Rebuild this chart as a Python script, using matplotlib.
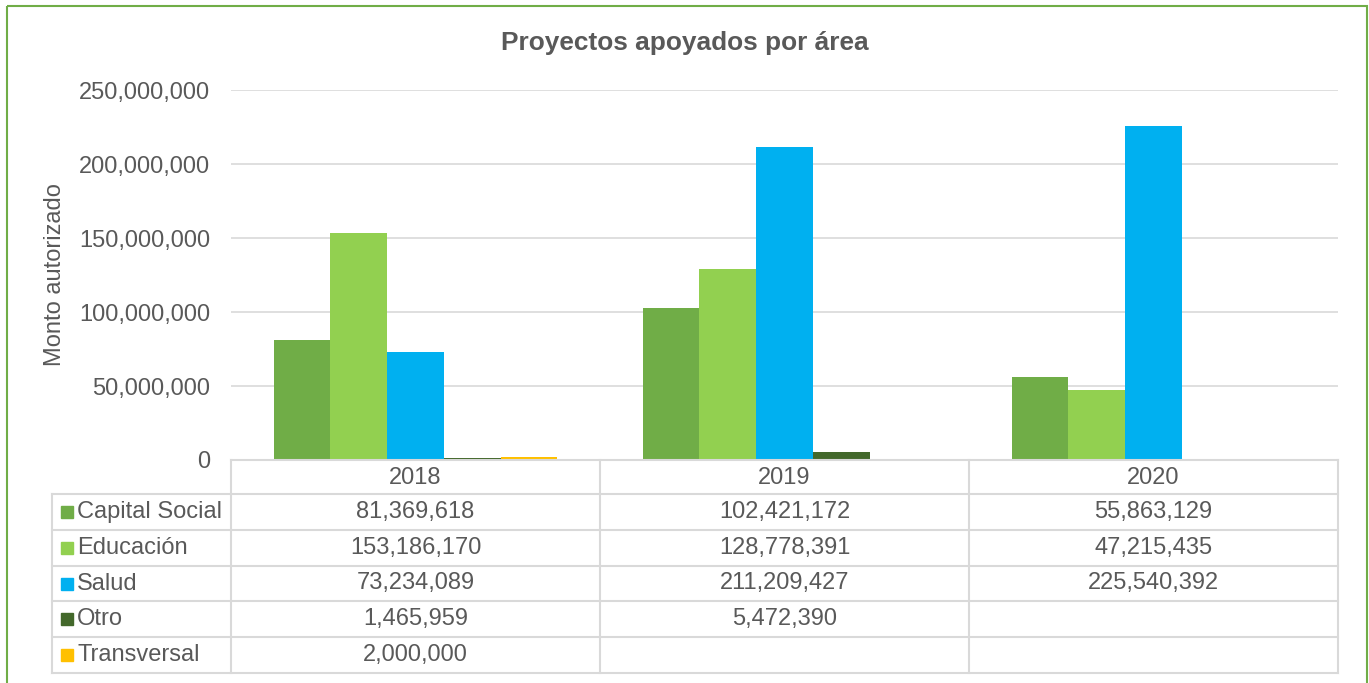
import matplotlib
matplotlib.use('Agg')
import matplotlib.pyplot as plt
import numpy as np
from matplotlib.patches import Rectangle
from matplotlib.lines import Line2D

# data
years = ['2018', '2019', '2020']
areas = ['Capital Social', 'Educación', 'Salud', 'Otro', 'Transversal']
capital_social = [81369618, 102421172, 55863129]
educacion = [153186170, 128778391, 47215435]
salud = [73234089, 211209427, 225540392]
otro = [1465959, 5472390, None]
transversal = [2000000, None, None]
colors = ['#70AD47', '#92D050', '#00B0F0', '#43682B', '#FFC000']

series = [capital_social, educacion, salud, otro, transversal]

plt.rcParams['font.family'] = ['Liberation Sans', 'DejaVu Sans']
text_col = '#595959'
grid_col = '#D9D9D9'

W, H = 1369, 683
fig = plt.figure(figsize=(W / 100, H / 100), dpi=100)

# main plot area (pixel box 231..1338 x 90..460)
ax = fig.add_axes([231 / W, 1 - 460 / H, (1338 - 231) / W, (460 - 90) / H])

n = len(series)
width = 1 / (n + 1.5)
x = np.arange(len(years))
for i, (vals, c) in enumerate(zip(series, colors)):
    v = np.array([np.nan if a is None else a for a in vals], dtype=float)
    ax.bar(x + (i - (n - 1) / 2) * width, v, width=width, color=c, zorder=3)

ax.set_xlim(-0.5, len(years) - 0.5)
ax.set_ylim(0, 250000000)
ax.set_yticks(np.arange(0, 250000001, 50000000))
ax.yaxis.set_major_formatter(matplotlib.ticker.FuncFormatter(lambda v, p: f'{int(v):,}'))
ax.tick_params(axis='y', length=0, pad=15, labelsize=17, labelcolor=text_col)
ax.set_xticks([])
ax.grid(axis='y', color=grid_col, linewidth=1.2, zorder=0)
for s in ax.spines.values():
    s.set_visible(False)
ax.set_ylabel('Monto autorizado', fontsize=17, color=text_col)
ax.yaxis.set_label_coords((66 - 231) / (1338 - 231), 0.5)

fig.text(685 / W, 1 - 43 / H, 'Proyectos apoyados por área', ha='center', va='center',
         fontsize=18.9, fontweight='bold', color=text_col)

# data table drawn in pixel space
tab = fig.add_axes([0, 0, 1, 1])
tab.set_xlim(0, W)
tab.set_ylim(H, 0)
tab.axis('off')
tab.patch.set_alpha(0)

col_edges = [231, 600, 969, 1338]
row_edges = [460, 494, 530, 566, 601, 637, 673]
label_left = 52
lc = grid_col
lw = 1.5
fs = 17

# header row
tab.add_line(Line2D([231, 1338], [460, 460], color=lc, lw=lw))
for xe in col_edges:
    tab.add_line(Line2D([xe, xe], [460, 673], color=lc, lw=lw))
for yr, x0, x1 in zip(years, col_edges[:-1], col_edges[1:]):
    tab.text((x0 + x1) / 2, (460 + 494) / 2 + 1, yr, ha='center', va='center', fontsize=fs, color=text_col)

# body rows
for ye in row_edges[1:]:
    tab.add_line(Line2D([label_left, 1338], [ye, ye], color=lc, lw=lw))
tab.add_line(Line2D([label_left, label_left], [494, 673], color=lc, lw=lw))

for r, (name, vals, c) in enumerate(zip(areas, series, colors)):
    y0, y1 = row_edges[r + 1], row_edges[r + 2]
    yc = (y0 + y1) / 2
    tab.add_patch(Rectangle((61, yc - 6), 12, 12, color=c))
    tab.text(77, yc, name, ha='left', va='center', fontsize=fs, color=text_col)
    for v, x0, x1 in zip(vals, col_edges[:-1], col_edges[1:]):
        if v is not None:
            tab.text((x0 + x1) / 2, yc, f'{v:,}', ha='center', va='center', fontsize=fs, color=text_col)

# green frame around the chart
tab.add_patch(Rectangle((7, 6), 1360, 700, fill=False, edgecolor='#70AD47', lw=1.5))

fig.savefig('out.png', dpi=100)
